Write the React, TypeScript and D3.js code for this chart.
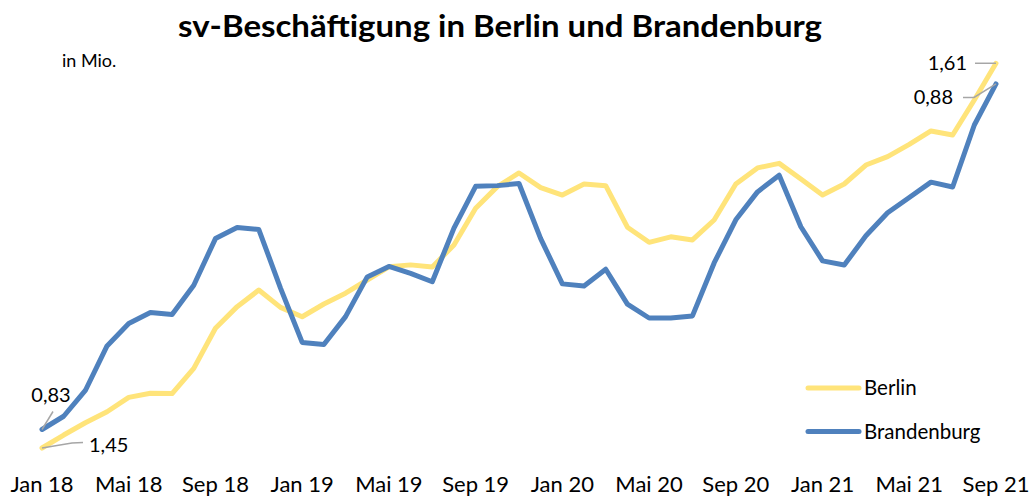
import React from "react";
import * as d3 from "d3";

const months: string[] = [
  "Jan 18","Feb 18","Mär 18","Apr 18","Mai 18","Jun 18","Jul 18","Aug 18","Sep 18","Okt 18","Nov 18","Dez 18",
  "Jan 19","Feb 19","Mär 19","Apr 19","Mai 19","Jun 19","Jul 19","Aug 19","Sep 19","Okt 19","Nov 19","Dez 19",
  "Jan 20","Feb 20","Mär 20","Apr 20","Mai 20","Jun 20","Jul 20","Aug 20","Sep 20","Okt 20","Nov 20","Dez 20",
  "Jan 21","Feb 21","Mär 21","Apr 21","Mai 21","Jun 21","Jul 21","Aug 21","Sep 21",
];

const berlin: number[] = [
  1.4500, 1.4554, 1.4605, 1.4651, 1.4711, 1.4728, 1.4727, 1.4832, 1.4999, 1.5089, 1.5158, 1.5086,
  1.5047, 1.5100, 1.5145, 1.5200, 1.5255, 1.5263, 1.5254, 1.5346, 1.5499, 1.5589, 1.5646, 1.5585,
  1.5554, 1.5600, 1.5593, 1.5420, 1.5357, 1.5380, 1.5367, 1.5450, 1.5600, 1.5667, 1.5686, 1.5621,
  1.5554, 1.5600, 1.5679, 1.5714, 1.5765, 1.5821, 1.5804, 1.5950, 1.6103,
];

const brandenburg: number[] = [
  0.8301, 0.8320, 0.8357, 0.8421, 0.8453, 0.8469, 0.8466, 0.8508, 0.8575, 0.8591, 0.8588, 0.8504,
  0.8426, 0.8423, 0.8463, 0.8520, 0.8535, 0.8525, 0.8513, 0.8590, 0.8650, 0.8651, 0.8654, 0.8575,
  0.8510, 0.8507, 0.8531, 0.8481, 0.8461, 0.8461, 0.8464, 0.8540, 0.8602, 0.8642, 0.8666, 0.8592,
  0.8543, 0.8537, 0.8579, 0.8612, 0.8634, 0.8656, 0.8649, 0.8738, 0.8797,
];

const tickLabels: string[] = [
  "Jan 18","Mai 18","Sep 18","Jan 19","Mai 19","Sep 19","Jan 20","Mai 20","Sep 20","Jan 21","Mai 21","Sep 21",
];

const berlinDomain: [number, number] = [1.44, 1.62];
const brandenburgDomain: [number, number] = [0.824, 0.886];

const title = "sv-Beschäftigung in Berlin und Brandenburg";
const unitLabel = "in Mio.";
const seriesNames = ["Berlin", "Brandenburg"];

const W = 1031;
const H = 497;
const YELLOW = "#FFE47A";
const BLUE = "#4F81BD";
const FONT = "Lato, 'Open Sans', sans-serif";

const fmt = (v: number) => v.toFixed(2).replace(".", ",");

export default function App() {
  const x = d3.scaleLinear().domain([0, months.length - 1]).range([42, 996]);
  const yB = d3.scaleLinear().domain(berlinDomain).range([472, 40]);
  const yBr = d3.scaleLinear().domain(brandenburgDomain).range([472, 40]);

  const lineB = d3.line<number>().x((_, i) => x(i)).y((d) => yB(d));
  const lineBr = d3.line<number>().x((_, i) => x(i)).y((d) => yBr(d));

  const last = months.length - 1;
  const bx0 = x(0), by0 = yB(berlin[0]);
  const rx0 = x(0), ry0 = yBr(brandenburg[0]);
  const bxN = x(last), byN = yB(berlin[last]);
  const rxN = x(last), ryN = yBr(brandenburg[last]);

  return (
    <svg
      width={W}
      height={H}
      style={{ position: "absolute", left: 0, top: 0, background: "#fff" }}
      fontFamily={FONT}
    >
      <rect width={W} height={H} fill="#fff" />
      <text x={178} y={37} fontSize={31} fontWeight="bold" fill="#000" textLength={644} lengthAdjust="spacingAndGlyphs">
        {title}
      </text>
      <text x={62} y={67} fontSize={18} fill="#000">{unitLabel}</text>

      <path d={lineB(berlin) || ""} fill="none" stroke={YELLOW} strokeWidth={5} strokeLinejoin="round" strokeLinecap="round" />
      <path d={lineBr(brandenburg) || ""} fill="none" stroke={BLUE} strokeWidth={5} strokeLinejoin="round" strokeLinecap="round" />

      {/* data label leaders */}
      <polyline points={`${bx0},${by0} ${bx0 + 30},${by0 - 5} ${bx0 + 41},${by0 - 5.5}`} fill="none" stroke="#a6a6a6" strokeWidth={1.5} />
      <polyline points={`${rx0},${ry0} ${rx0 + 11},${ry0 - 18}`} fill="none" stroke="#a6a6a6" strokeWidth={1.5} />
      <polyline points={`${bxN},${byN} ${bxN - 21},${byN}`} fill="none" stroke="#a6a6a6" strokeWidth={1.5} />
      <polyline points={`${rxN},${ryN} ${rxN - 22},${ryN + 13.5} ${rxN - 33},${ryN + 13.5}`} fill="none" stroke="#a6a6a6" strokeWidth={1.5} />

      <text x={bx0 + 47} y={by0 + 4} fontSize={20} fill="#000">{fmt(berlin[0])}</text>
      <text x={rx0 + 9} y={ry0 - 27} fontSize={20} fill="#000" textAnchor="middle">{fmt(brandenburg[0])}</text>
      <text x={bxN - 29} y={byN + 7} fontSize={20} fill="#000" textAnchor="end">{fmt(berlin[last])}</text>
      <text x={rxN - 43} y={ryN + 20} fontSize={20} fill="#000" textAnchor="end">{fmt(brandenburg[last])}</text>

      {tickLabels.map((t) => {
        const i = months.indexOf(t);
        return (
          <text key={t} x={x(i)} y={492} textAnchor="middle" fontSize={22} fill="#000">
            {t}
          </text>
        );
      })}

      {/* legend */}
      <line x1={808} x2={859} y1={388} y2={388} stroke={YELLOW} strokeWidth={5} strokeLinecap="round" />
      <text x={864} y={395} fontSize={20.5} fill="#000">{seriesNames[0]}</text>
      <line x1={808} x2={859} y1={431.5} y2={431.5} stroke={BLUE} strokeWidth={5} strokeLinecap="round" />
      <text x={864} y={438.5} fontSize={20.5} fill="#000">{seriesNames[1]}</text>
    </svg>
  );
}
